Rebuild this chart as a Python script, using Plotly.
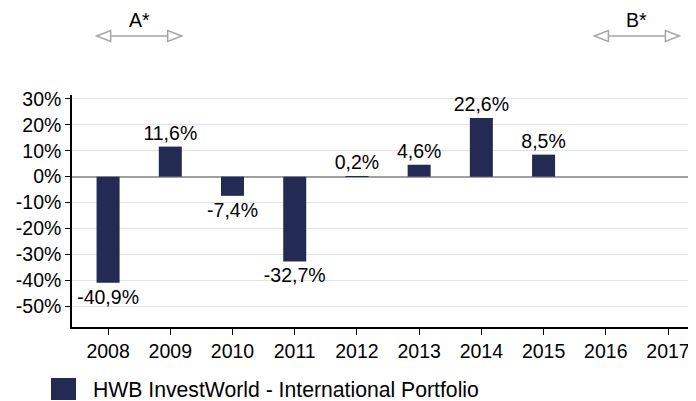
import plotly.graph_objects as go

years = ["2008", "2009", "2010", "2011", "2012", "2013", "2014", "2015", "2016", "2017"]
returns = [-40.9, 11.6, -7.4, -32.7, 0.2, 4.6, 22.6, 8.5, None, None]
labels = ["-40,9%", "11,6%", "-7,4%", "-32,7%", "0,2%", "4,6%", "22,6%", "8,5%", "", ""]
y_ticks = [30, 20, 10, 0, -10, -20, -30, -40, -50]
y_tick_text = [f"{v}%" for v in y_ticks]
series_name = "HWB InvestWorld - International Portfolio"
periods = [("A*", 0.5), ("B*", 8.5)]

BAR = "#232B55"
FONT = "Liberation Sans, Arial, sans-serif"
FS = 19.5

# page has an 8px body margin: plot area at page x 72..696, y 95..327
PW, PH = 624, 232

fig = go.Figure()
fig.add_trace(go.Bar(
    x=years, y=returns, text=labels, textposition="outside",
    textfont=dict(family=FONT, size=FS, color="black"),
    constraintext="none",
    marker=dict(color=BAR, line=dict(width=0)),
    width=0.37, cliponaxis=False, showlegend=False, name=series_name,
))

shapes = []
annotations = []
ay = 1 + (95 - 36) / PH
for lab, cx in periods:
    common = dict(xref="x", yref="paper", xsizemode="pixel", ysizemode="pixel",
                  xanchor=cx, yanchor=ay, line=dict(color="#A6A6A6", width=1.5))
    shapes.append(dict(type="path", path="M -28 0 L 28 0", **common))
    shapes.append(dict(type="path", path="M -42.5 0 L -28.5 5.5 L -28.5 -5.5 Z", fillcolor="white", **common))
    shapes.append(dict(type="path", path="M 42.5 0 L 28.5 5.5 L 28.5 -5.5 Z", fillcolor="white", **common))
    annotations.append(dict(x=cx, y=1 + (95 - 20) / PH, xref="x", yref="paper", text=lab,
                            xanchor="center", yanchor="middle",
                            showarrow=False, font=dict(family=FONT, size=FS, color="black")))

# legend drawn manually
shapes.append(dict(type="rect", xref="paper", yref="paper",
                   x0=(51 - 72) / PW, x1=(76 - 72) / PW,
                   y0=(327 - 400) / PH, y1=(327 - 378) / PH,
                   fillcolor=BAR, line=dict(width=0)))
annotations.append(dict(x=(91 - 72) / PW, y=(327 - 389) / PH, xref="paper", yref="paper",
                        xanchor="left", yanchor="middle", text=series_name, showarrow=False,
                        font=dict(family=FONT, size=21.2, color="black")))

fig.update_layout(
    width=688, height=393,
    margin=dict(l=64, r=0, t=87, b=74, pad=0),
    plot_bgcolor="white", paper_bgcolor="white",
    font=dict(family=FONT, size=FS, color="black"),
    shapes=shapes, annotations=annotations,
    xaxis=dict(range=[-0.58, 9.45], showline=True, linecolor="black", linewidth=1.5,
               ticks="outside", ticklen=6, tickcolor="black", showgrid=False,
               automargin=False,
               tickfont=dict(family=FONT, size=FS, color="black")),
    yaxis=dict(range=[-58, 31.5], tickvals=y_ticks, ticktext=y_tick_text,
               showline=True, linecolor="black", linewidth=1.5,
               ticks="outside", ticklen=5, tickcolor="black",
               showgrid=True, gridcolor="#E3E3E3", gridwidth=1,
               zeroline=True, zerolinecolor="#A0A0A0", zerolinewidth=1.5,
               automargin=False,
               tickfont=dict(family=FONT, size=FS, color="black")),
)

fig.write_html("out.html")
